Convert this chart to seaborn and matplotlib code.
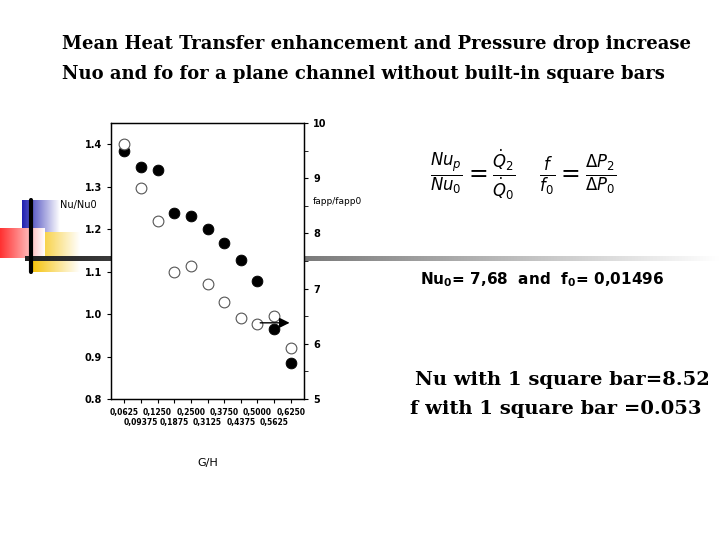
import numpy as np
import matplotlib
matplotlib.use("Agg")
import matplotlib.pyplot as plt
import seaborn as sns
import pandas as pd
from matplotlib.colors import LinearSegmentedColormap

gh_labels = ["0,0625", "0,09375", "0,1250", "0,1875", "0,2500", "0,3125",
             "0,3750", "0,4375", "0,5000", "0,5625", "0,6250"]
nu_ratio = [1.383, 1.346, 1.339, 1.237, 1.232, 1.201, 1.167, 1.128, 1.078, 0.966, 0.885]
f_ratio = [9.62, 8.83, 8.23, 7.30, 7.41, 7.08, 6.75, 6.46, 6.36, 6.50, 5.93]

sns.set_style("white")
plt.rcParams['font.family'] = ['DejaVu Sans']
plt.rcParams['text.color'] = 'black'
plt.rcParams['xtick.color'] = 'black'
plt.rcParams['ytick.color'] = 'black'
plt.rcParams['axes.labelcolor'] = 'black'
fig = plt.figure(figsize=(7.2, 5.4), dpi=100)

# slide decorations
deco = fig.add_axes([0, 0, 1, 1], zorder=-5)
deco.set_xlim(0, 720); deco.set_ylim(540, 0); deco.axis("off")
grad = np.linspace(0, 1, 256).reshape(1, -1)
deco.imshow(grad, extent=[22, 60, 232, 200], cmap=LinearSegmentedColormap.from_list("b", ["#2020b0", "#ffffff"]), aspect="auto")
deco.imshow(grad, extent=[30, 80, 272, 232], cmap=LinearSegmentedColormap.from_list("y", ["#f5c000", "#ffffff"]), aspect="auto")
deco.imshow(grad, extent=[0, 45, 258, 228], cmap=LinearSegmentedColormap.from_list("r", ["#ff3030", "#ffffff"]), aspect="auto")
deco.imshow(grad, extent=[25, 720, 261, 256], cmap=LinearSegmentedColormap.from_list("g", ["#202020", "#ffffff"]), aspect="auto")
deco.plot([31, 31], [200, 272], color="black", lw=3)

fig.text(62 / 720, 1 - 44 / 540, "Mean Heat Transfer enhancement and Pressure drop increase",
         family="serif", fontweight="bold", fontsize=13, va="center")
fig.text(62 / 720, 1 - 74 / 540, "Nuo and fo for a plane channel without built-in square bars",
         family="serif", fontweight="bold", fontsize=13, va="center")
fig.text(430 / 720, 1 - 175 / 540,
         r"$\frac{Nu_p}{Nu_0}=\frac{\dot{Q}_2}{\dot{Q}_0}\quad\frac{f}{f_0}=\frac{\Delta P_2}{\Delta P_0}$",
         fontsize=17, va="center")
fig.text(420 / 720, 1 - 280 / 540, r"Nu$_\mathbf{0}$= 7,68  and  f$_\mathbf{0}$= 0,01496",
         fontweight="bold", fontsize=11, va="center")
fig.text(415 / 720, 1 - 380 / 540, "Nu with 1 square bar=8.52", family="serif",
         fontweight="bold", fontsize=14, va="center")
fig.text(410 / 720, 1 - 409 / 540, "f with 1 square bar =0.053", family="serif",
         fontweight="bold", fontsize=14, va="center")

ax = fig.add_axes([111 / 720, 1 - 399 / 540, 193 / 720, 276 / 540])
df = pd.DataFrame({"x": np.arange(len(gh_labels)), "nu": nu_ratio, "f": f_ratio})
sns.scatterplot(data=df, x="x", y="nu", ax=ax, color="black", s=60, edgecolor="black", zorder=3)
ax.set_ylim(0.8, 1.45)
ax.set_xlim(-0.8, 10.8)
ax.set_yticks([0.8, 0.9, 1.0, 1.1, 1.2, 1.3, 1.4])
ax.set_yticklabels(["0.8", "0.9", "1.0", "1.1", "1.2", "1.3", "1.4"], fontsize=7, fontweight="bold")
ax.set_xticks(df["x"])
ax.set_xticklabels([l if i % 2 == 0 else "\n" + l for i, l in enumerate(gh_labels)],
                   fontsize=5.5, fontweight="bold")
ax.tick_params(direction="out", length=3, width=0.8, bottom=True, left=True)
ax.set_xlabel("G/H", fontsize=8, labelpad=22)
ax.set_ylabel("")
fig.text(60 / 720, 1 - 205 / 540, "Nu/Nu0", fontsize=7, va="center")

ax2 = ax.twinx()
sns.scatterplot(data=df, x="x", y="f", ax=ax2, facecolor="white", edgecolor="#555555",
                s=60, linewidth=0.8, zorder=3)
ax2.set_ylim(5, 10)
ax2.set_yticks([5, 6, 7, 8, 9, 10])
ax2.set_yticklabels(["5", "6", "7", "8", "9", "10"], fontsize=7, fontweight="bold")
ax2.set_yticks(np.arange(5.5, 10, 1), minor=True)
ax2.tick_params(axis="y", which="both", direction="out", length=3, right=True)
ax2.set_ylabel("")
fig.text(313 / 720, 1 - 202 / 540, "fapp/fapp0", fontsize=6.5, va="center")
for a in (ax, ax2):
    for s in a.spines.values():
        s.set_color("black"); s.set_linewidth(0.9)
ax2.annotate("", xy=(10.1, 6.38), xytext=(8.0, 6.38),
             arrowprops=dict(arrowstyle="-|>", color="black", lw=1, mutation_scale=15))

fig.savefig("out.png", dpi=100)
